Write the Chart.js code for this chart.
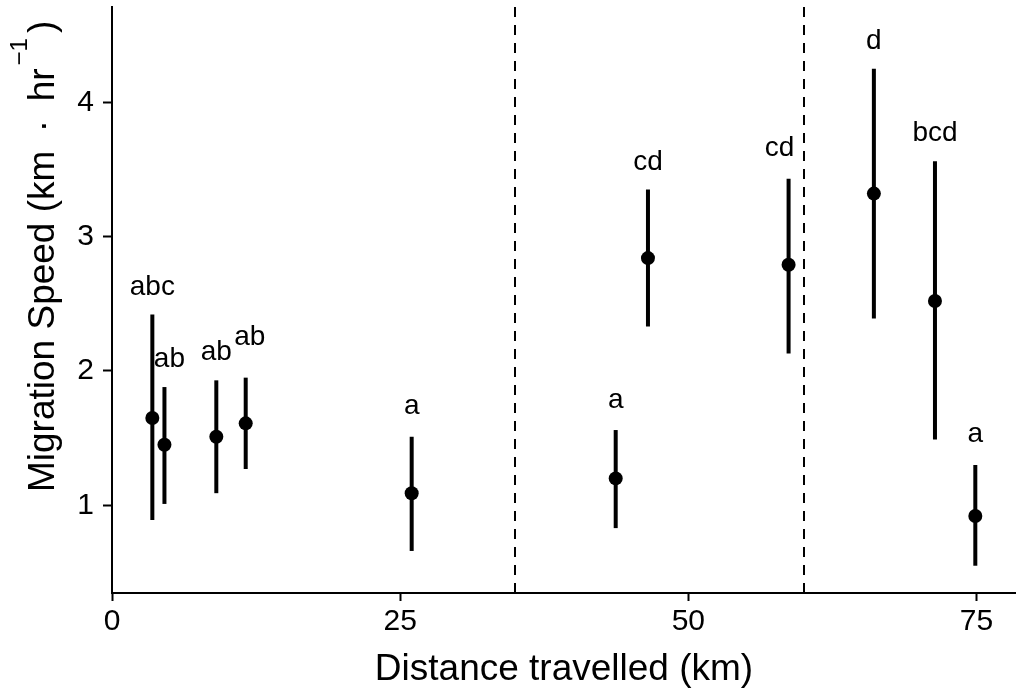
<!DOCTYPE html>
<html>
<head>
<meta charset="utf-8">
<script src="https://cdn.jsdelivr.net/npm/chart.js@4.4.1/dist/chart.umd.min.js"></script>
<style>
  html, body { margin: 0; padding: 0; background: #fff; }
  #wrap { width: 1016px; height: 692px; }
</style>
</head>
<body>
<div id="wrap"><canvas id="speedChart" width="1016" height="692"></canvas></div>
<script>
const distance = [3.5, 4.55, 9.05, 11.6, 26.0, 43.7, 46.5, 58.7, 66.1, 71.4, 74.9];
const speed    = [1.65, 1.45, 1.51, 1.61, 1.09, 1.20, 2.84, 2.79, 3.32, 2.52, 0.92];
const lower    = [0.89, 1.01, 1.09, 1.27, 0.66, 0.83, 2.33, 2.13, 2.39, 1.49, 0.55];
const upper    = [2.42, 1.88, 1.93, 1.95, 1.51, 1.56, 3.35, 3.43, 4.25, 3.56, 1.30];
const groups   = ['abc', 'ab', 'ab', 'ab', 'a', 'a', 'cd', 'cd', 'd', 'bcd', 'a'];
const breaks   = [35, 60];
const xTicks   = [0, 25, 50, 75];
const yTicks   = [1, 2, 3, 4];

const FONT = "'Liberation Sans', Arial, sans-serif";

// little pixel shifts so neighbouring letters don't collide
const labelShift = { 1: [5, 0], 3: [4, -13], 7: [-9, -3] };

const decorations = {
  id: 'decorations',
  beforeDatasetsDraw(chart) {
    const { ctx, chartArea, scales: { x, y } } = chart;
    ctx.save();
    ctx.strokeStyle = '#000';

    // dashed section breaks
    ctx.lineWidth = 2;
    ctx.setLineDash([10, 8]);
    breaks.forEach(b => {
      const px = Math.round(x.getPixelForValue(b));
      ctx.beginPath();
      ctx.moveTo(px, chartArea.top);
      ctx.lineTo(px, chartArea.bottom);
      ctx.stroke();
    });
    ctx.setLineDash([]);

    // error bars
    ctx.lineWidth = 4;
    distance.forEach((d, i) => {
      const px = x.getPixelForValue(d);
      ctx.beginPath();
      ctx.moveTo(px, y.getPixelForValue(lower[i]));
      ctx.lineTo(px, y.getPixelForValue(upper[i]));
      ctx.stroke();
    });
    ctx.restore();
  },
  afterDraw(chart) {
    const { ctx, chartArea, scales: { x, y } } = chart;
    ctx.save();
    ctx.fillStyle = '#000';

    // group letters above each bar
    ctx.font = `28px ${FONT}`;
    ctx.textAlign = 'center';
    ctx.textBaseline = 'alphabetic';
    groups.forEach((g, i) => {
      const [dx, dy] = labelShift[i] || [0, 0];
      const m = ctx.measureText(g);
      const mid = y.getPixelForValue(upper[i]) - 30 + dy;
      const base = mid + (m.actualBoundingBoxAscent - m.actualBoundingBoxDescent) / 2;
      ctx.fillText(g, x.getPixelForValue(distance[i]) + dx, base);
    });

    // x axis title
    ctx.font = `37px ${FONT}`;
    ctx.fillText('Distance travelled (km)', (chartArea.left + chartArea.right) / 2, 680);

    // y axis title with superscript
    ctx.translate(54, 492);
    ctx.rotate(-Math.PI / 2);
    ctx.textAlign = 'left';
    const main = 'Migration Speed (km\u2002\u00B7\u2002hr';
    ctx.font = `37px ${FONT}`;
    ctx.fillText(main, 0, 0);
    let off = ctx.measureText(main).width + 3;
    ctx.font = `24px ${FONT}`;
    const sup = '\u22121';
    ctx.fillText(sup, off, -27);
    off += ctx.measureText(sup).width + 5;
    ctx.font = `37px ${FONT}`;
    ctx.fillText(')', off, 0);
    ctx.restore();
  }
};

const noPadding = s => {
  s.paddingLeft = 0; s.paddingRight = 0;
  s.paddingTop = 0; s.paddingBottom = 0;
};

new Chart(document.getElementById('speedChart'), {
  type: 'scatter',
  data: {
    datasets: [{
      data: distance.map((d, i) => ({ x: d, y: speed[i] })),
      pointRadius: 7,
      pointHoverRadius: 7,
      pointBackgroundColor: '#000',
      pointBorderWidth: 0,
      showLine: false
    }]
  },
  options: {
    responsive: false,
    animation: false,
    devicePixelRatio: 1,
    layout: { autoPadding: false, padding: { top: 7, left: 0, right: 0, bottom: 0 } },
    plugins: { legend: { display: false }, tooltip: { enabled: false } },
    scales: {
      x: {
        type: 'linear',
        min: 0,
        max: 78.43,
        afterBuildTicks: s => { s.ticks = xTicks.map(value => ({ value })); },
        afterFit: s => { s.height = 99; noPadding(s); },
        grid: { drawOnChartArea: false, drawTicks: true, tickLength: 8, tickWidth: 2, tickColor: '#000' },
        border: { display: true, color: '#000', width: 2 },
        ticks: { color: '#000', font: { family: FONT, size: 30 }, padding: 3, maxRotation: 0, autoSkip: false, callback: v => v }
      },
      y: {
        type: 'linear',
        min: 0.347,
        max: 4.709,
        afterBuildTicks: s => { s.ticks = yTicks.map(value => ({ value })); },
        afterFit: s => { s.width = 112; noPadding(s); },
        grid: { drawOnChartArea: false, drawTicks: true, tickLength: 9, tickWidth: 2, tickColor: '#000' },
        border: { display: true, color: '#000', width: 2 },
        ticks: { color: '#000', font: { family: FONT, size: 30 }, padding: 9, autoSkip: false, callback: v => v }
      }
    }
  },
  plugins: [decorations]
});
</script>
</body>
</html>
